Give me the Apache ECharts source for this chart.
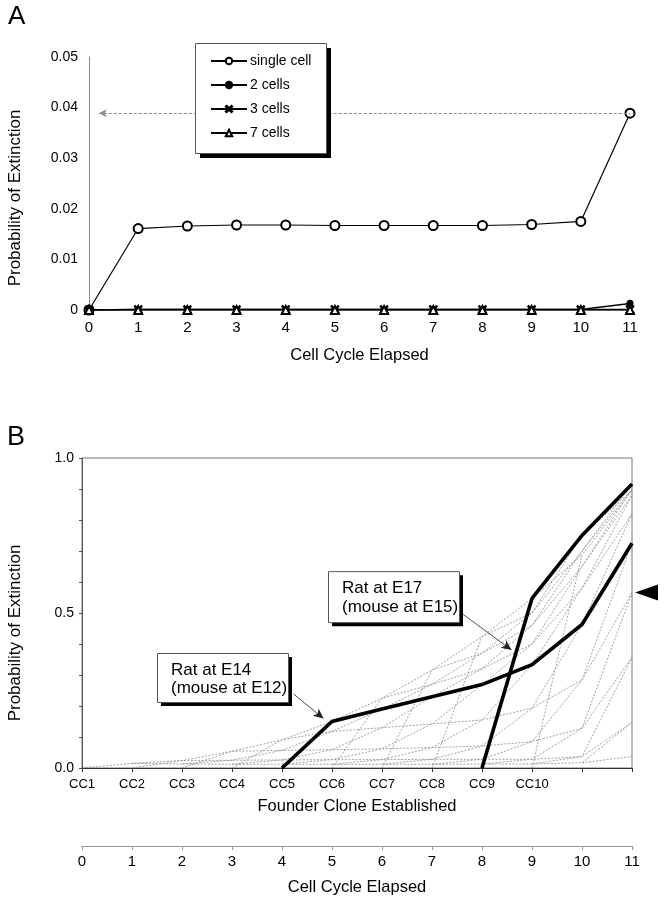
<!DOCTYPE html>
<html><head><meta charset="utf-8">
<script src="https://cdn.jsdelivr.net/npm/echarts@6/dist/echarts.min.js"></script>
<style>html,body{margin:0;padding:0;background:#fff}#c{width:664px;height:900px}</style>
</head><body><div id="c"></div>
<script>
const FONT = "'Liberation Sans', Arial, sans-serif";
const NARROW = "'Liberation Sans Narrow', 'Arial Narrow', 'Liberation Sans', sans-serif";

// ---------- Panel A data ----------
const cyclesA = [0,1,2,3,4,5,6,7,8,9,10,11];
const xLabelsA = ['0','1','2','3','4','5','6','7','8','9','10','11'];
const yLabelsA = ['0','0.01','0.02','0.03','0.04','0.05'];
const singleCell = [0, 0.0161, 0.0166, 0.0168, 0.0168, 0.0167, 0.0167, 0.0167, 0.0167, 0.0169, 0.0175, 0.0389];
const twoCells   = [0, 0.0001, 0.0001, 0.0001, 0.0001, 0.0001, 0.0001, 0.0001, 0.0001, 0.0001, 0.0001, 0.0013];
const threeCells = [0, 0.0001, 0.0001, 0.0001, 0.0001, 0.0001, 0.0001, 0.0001, 0.0001, 0.0001, 0.0001, 0.0001];
const sevenCells = [0, 0, 0, 0, 0, 0, 0, 0, 0, 0, 0, 0];
const singleCellLevel = 0.0389;      // dashed guide level
const guideStart = 0.2;              // guide arrow tip (cycle)

// ---------- Panel B data ----------
const cyclesB = [0,1,2,3,4,5,6,7,8,9,10,11];
const ccLabels = ['CC1','CC2','CC3','CC4','CC5','CC6','CC7','CC8','CC9','CC10','',''];
const cycleLabelsB = ['0','1','2','3','4','5','6','7','8','9','10','11'];
const yLabelsB = ['0.0','0.5','1.0'];
// founder clone established at CCk : starts at cycle k-1
const cc1  = [0, 0.015, 0.013, 0.012, 0.012, 0.012, 0.012, 0.012, 0.013, 0.013, 0.017, 0.037];
const cc2  = [null, 0, 0.024, 0.025, 0.026, 0.027, 0.027, 0.028, 0.028, 0.028, 0.037, 0.147];
const cc3  = [null, null, 0, 0.054, 0.057, 0.059, 0.062, 0.066, 0.071, 0.085, 0.128, 0.357];
const cc4  = [null, null, null, 0, 0.091, 0.118, 0.130, 0.142, 0.155, 0.193, 0.284, 0.566];
const cc5  = [null, null, null, null, 0, 0.150, 0.190, 0.230, 0.269, 0.333, 0.463, 0.725]; // Rat E14
const cc6  = [null, null, null, null, null, 0, 0.225, 0.270, 0.320, 0.400, 0.580, 0.820];
const cc7  = [null, null, null, null, null, null, 0, 0.316, 0.370, 0.460, 0.650, 0.880];
const cc8  = [null, null, null, null, null, null, null, 0, 0.424, 0.500, 0.700, 0.900];
const cc9  = [null, null, null, null, null, null, null, null, 0, 0.547, 0.750, 0.916]; // Rat E17
const cc10 = [null, null, null, null, null, null, null, null, null, 0, 0.687, 0.895];
const arrowheadLevel = 0.566;
const arrowE17 = [[7.55, 0.504], [8.59, 0.381]];
const arrowE14 = [[4.23, 0.239], [4.83, 0.160]];
const boxE17 = {at: [4.92, 0.635], lines: ['Rat at E17', '(mouse at E15)']};
const boxE14 = {at: [1.50, 0.371], lines: ['Rat at E14', '(mouse at E12)']};

const founders = [cc1, cc2, cc3, cc4, cc5, cc6, cc7, cc8, cc9, cc10];

const chart = echarts.init(document.getElementById('c'), null, {renderer: 'canvas'});

const toPts = arr => cyclesB.map((x, i) => [x, arr[i]]).filter(p => p[1] != null);
const thinStyle = {color: '#8a8a8a', width: 0.8, type: [2, 1.5]};

const series = [];
// Panel A
const X_PATH = 'path://M1.2,0 L5,3.8 L8.8,0 L10,1.2 L6.2,5 L10,8.8 L8.8,10 L5,6.2 L1.2,10 L0,8.8 L3.8,5 L0,1.2 Z';
const aSeries = [
  {name: 'single cell', data: singleCell, symbol: 'emptyCircle', symbolSize: 9, w: 1.2},
  {name: '2 cells', data: twoCells, symbol: 'circle', symbolSize: 6, w: 1.6},
  {name: '3 cells', data: threeCells, symbol: X_PATH, symbolSize: 8, w: 1.6},
  {name: '7 cells', data: sevenCells, symbol: 'emptyTriangle', symbolSize: 8, w: 1.6}
];
aSeries.forEach((s, idx) => {
  const ser = {
    type: 'line', name: s.name, xAxisIndex: 0, yAxisIndex: 0,
    data: cyclesA.map((x, i) => [x, s.data[i]]),
    symbol: s.symbol, symbolSize: s.symbolSize, showAllSymbol: true,
    lineStyle: {color: '#000', width: s.w},
    itemStyle: {color: '#000', borderColor: '#000', borderWidth: 1.1},
    z: 3 + idx, animation: false, silent: true
  };
  if (idx === 0) {
    ser.markLine = {
      silent: true, symbol: ['arrow', 'none'], symbolSize: [6, 8],
      lineStyle: {color: '#8c8c8c', type: [3, 2], width: 1},
      label: {show: false},
      data: [[{coord: [guideStart, singleCellLevel]}, {coord: [11, singleCellLevel]}]]
    };
  }
  series.push(ser);
});

// Panel B: founder curves (thin)
founders.forEach((arr, k) => {
  if (k === 4 || k === 8) return;
  series.push({type: 'line', xAxisIndex: 1, yAxisIndex: 1, data: toPts(arr), symbol: 'none',
    lineStyle: thinStyle, silent: true, animation: false, z: 2});
});
// Panel B: lines joining equal cycles since founding
for (let m = 1; m <= 10; m++) {
  const pts = [];
  for (let k = 1; k <= 10; k++) {
    const t = k - 1 + m;
    if (t <= 11) pts.push([t, founders[k - 1][t]]);
  }
  if (pts.length >= 2) series.push({type: 'line', xAxisIndex: 1, yAxisIndex: 1, data: pts, symbol: 'none',
    lineStyle: thinStyle, silent: true, animation: false, z: 2});
}
// thick
[cc5, cc9].forEach((arr, j) => {
  const s = {type: 'line', xAxisIndex: 1, yAxisIndex: 1, data: toPts(arr), symbol: 'none',
    lineStyle: {color: '#000', width: 3.6, join: 'miter'}, silent: true, animation: false, z: 5};
  if (j === 0) {
    s.markLine = {silent: true, symbol: ['none', 'arrow'], symbolSize: [7, 10],
      lineStyle: {color: '#222', type: 'solid', width: 0.8}, label: {show: false},
      data: [[{coord: arrowE17[0]}, {coord: arrowE17[1]}], [{coord: arrowE14[0]}, {coord: arrowE14[1]}]]};
  }
  series.push(s);
});

const option = {
  animation: false,
  backgroundColor: '#fff',
  textStyle: {fontFamily: FONT, color: '#000'},
  grid: [
    {left: 89, right: 34, top: 57, bottom: 590, containLabel: false},
    {left: 82, right: 32, top: 458, bottom: 132, show: true, borderColor: '#777', borderWidth: 1, backgroundColor: 'transparent'},
    {left: 82, right: 32, top: 845, height: 1}
  ],
  legend: {
    data: ['single cell', '2 cells', '3 cells', '7 cells'],
    orient: 'vertical', left: 210, top: 54, padding: 0, itemGap: 10,
    itemWidth: 36, itemHeight: 8, selectedMode: false, z: 60,
    textStyle: {fontSize: 14, lineHeight: 14, color: '#000', fontFamily: FONT, padding: [0, 0, 0, -2]}
  },
  xAxis: [
    {gridIndex: 0, type: 'value', min: 0, max: 11, interval: 1,
      axisLine: {show: false}, axisTick: {show: false}, splitLine: {show: false},
      axisLabel: {fontSize: 15, margin: 10, color: '#000', fontFamily: FONT, formatter: v => xLabelsA[Math.round(v)]},
      name: 'Cell Cycle Elapsed', nameLocation: 'middle', nameGap: 37,
      nameTextStyle: {fontSize: 16.5, color: '#000', fontFamily: FONT}},
    {gridIndex: 1, type: 'value', min: 0, max: 11, interval: 1,
      axisLine: {show: true, onZero: false, lineStyle: {color: '#333', width: 1}},
      axisTick: {show: true, length: 4, lineStyle: {color: '#333'}}, splitLine: {show: false},
      axisLabel: {fontSize: 13, margin: 10, color: '#000', fontFamily: NARROW, formatter: v => ccLabels[Math.round(v)]},
      name: 'Founder Clone Established', nameLocation: 'middle', nameGap: 30,
      nameTextStyle: {fontSize: 16.5, color: '#000', fontFamily: FONT}},
    {gridIndex: 2, type: 'value', min: 0, max: 11, interval: 1, position: 'bottom',
      axisLine: {show: true, onZero: false, lineStyle: {color: '#999', width: 1.2}},
      axisTick: {show: true, length: 4, lineStyle: {color: '#999'}}, splitLine: {show: false},
      axisLabel: {fontSize: 15, margin: 8, color: '#000', fontFamily: FONT, formatter: v => cycleLabelsB[Math.round(v)]},
      name: 'Cell Cycle Elapsed', nameLocation: 'middle', nameGap: 33,
      nameTextStyle: {fontSize: 16.5, color: '#000', fontFamily: FONT}}
  ],
  yAxis: [
    {gridIndex: 0, type: 'value', min: 0, max: 0.05, interval: 0.01,
      axisLine: {show: true, lineStyle: {color: '#888', width: 1}}, axisTick: {show: false}, splitLine: {show: false},
      axisLabel: {fontSize: 14, margin: 11, color: '#000', fontFamily: FONT, formatter: v => yLabelsA[Math.round(v / 0.01)]}},
    {gridIndex: 1, type: 'value', min: 0, max: 1, interval: 0.1,
      axisLine: {show: true, lineStyle: {color: '#555', width: 1}},
      axisTick: {show: true, length: 3, lineStyle: {color: '#555'}}, splitLine: {show: false},
      axisLabel: {fontSize: 14, margin: 8, color: '#000', fontFamily: FONT,
        formatter: v => { const t = Math.round(v * 10); return t % 5 === 0 ? yLabelsB[t / 5] : ''; }}},
    {gridIndex: 2, type: 'value', min: 0, max: 1, show: false}
  ],
  series: series
};
chart.setOption(option);

// annotations placed through the chart's coordinate system
function px(grid, pt) { return chart.convertToPixel({gridIndex: grid}, pt); }
const graphics = [];
function shadowBox(x, y, w, h, off, z) {
  graphics.push({type: 'rect', shape: {x: x + off, y: y + off, width: w, height: h}, style: {fill: '#000'}, z: z, silent: true});
  graphics.push({type: 'rect', shape: {x: x + 0.5, y: y + 0.5, width: w, height: h}, style: {fill: '#fff', stroke: '#555', lineWidth: 1}, z: z + 1, silent: true});
}
function addBox(box, w, h) {
  const p = px(1, box.at);
  shadowBox(p[0], p[1], w, h, 4, 100);
  graphics.push({type: 'text', x: p[0] + 14, y: p[1] + 8, z: 102, silent: true,
    style: {text: box.lines.join('\n'), font: '17px ' + FONT, fill: '#000', lineHeight: 18.5}});
}
addBox(boxE17, 131, 51);
addBox(boxE14, 131, 49);
// legend frame (legend items drawn by ECharts on top)
const legTop = px(0, [0, 0.05]);
shadowBox(195, 43, 131, 110, 5, 40);
const tip = px(1, [11, arrowheadLevel]);
graphics.push({type: 'polygon', shape: {points: [[tip[0] + 3, tip[1]], [tip[0] + 26, tip[1] - 8], [tip[0] + 26, tip[1] + 8]]}, style: {fill: '#000'}, z: 100, silent: true});
graphics.push({type: 'text', x: 8, y: 4, style: {text: 'A', font: '26px ' + FONT, fill: '#000'}, silent: true});
graphics.push({type: 'text', x: 7, y: 424, style: {text: 'B', font: '27px ' + FONT, fill: '#000'}, silent: true});
graphics.push({type: 'text', x: 15, y: 198, rotation: Math.PI / 2, style: {text: 'Probability of Extinction', font: '17px ' + FONT, fill: '#000', align: 'center', verticalAlign: 'middle'}, silent: true});
graphics.push({type: 'text', x: 15, y: 633, rotation: Math.PI / 2, style: {text: 'Probability of Extinction', font: '17px ' + FONT, fill: '#000', align: 'center', verticalAlign: 'middle'}, silent: true});
chart.setOption({graphic: graphics});
</script></body></html>
